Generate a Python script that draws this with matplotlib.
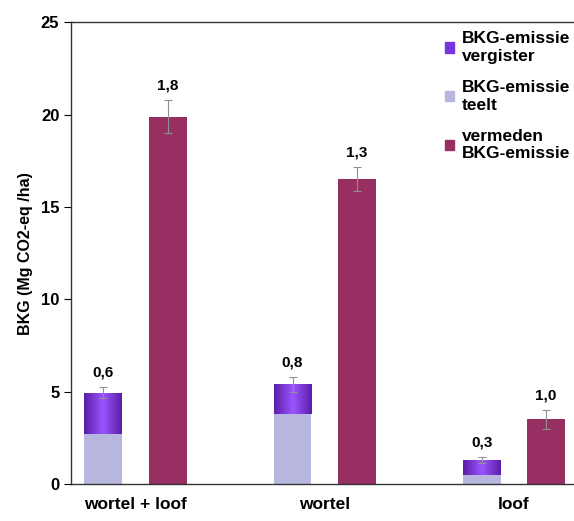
import numpy as np
import matplotlib.pyplot as plt
from matplotlib.colors import LinearSegmentedColormap

plt.rcParams['font.family'] = ['Liberation Sans', 'DejaVu Sans']
plt.rcParams['font.weight'] = 'bold'

groepen = ['wortel + loof', 'wortel', 'loof']
teelt = [2.7, 3.8, 0.5]          # BKG-emissie teelt
vergister = [2.25, 1.6, 0.8]     # BKG-emissie vergister (bovenop teelt)
vermeden = [19.9, 16.5, 3.5]     # vermeden BKG-emissie
err_emissie = [0.6, 0.8, 0.3]    # totale spreiding (label)
err_vermeden = [1.8, 1.3, 1.0]

x = np.arange(len(groepen))
w = 0.2
dx = 0.17

fig = plt.figure(figsize=(5.74, 5.21), dpi=100)
ax = fig.add_axes([0.124, 0.071, 0.88, 0.886])

c_teelt = '#b6b6de'
c_verg = '#7a35e0'
c_verm = '#972f62'

totaal = np.array(teelt) + np.array(vergister)

ax.bar(x - dx, teelt, w, color=c_teelt, zorder=2)
bars_v = ax.bar(x - dx, vergister, w, bottom=teelt, color=c_verg, zorder=2)
ax.bar(x + dx, vermeden, w, color=c_verm, zorder=2)

# horizontale gradient in de vergister-balken
grad_cmap = LinearSegmentedColormap.from_list('g', ['#5a1ea8', '#9d55ff', '#5a1ea8'])
grad = np.linspace(0, 1, 64).reshape(1, -1)
for b in bars_v:
    im = ax.imshow(grad, cmap=grad_cmap, aspect='auto', zorder=2.5,
                   extent=[b.get_x(), b.get_x() + b.get_width(),
                           b.get_y(), b.get_y() + b.get_height()])
    im.set_clip_path(b)

# foutbalken: label geeft totale spreiding
ax.errorbar(x - dx, totaal, yerr=np.array(err_emissie) / 2, fmt='none',
            ecolor='#909090', elinewidth=0.8, capsize=3, capthick=0.8, zorder=3)
ax.errorbar(x + dx, vermeden, yerr=np.array(err_vermeden) / 2, fmt='none',
            ecolor='#909090', elinewidth=0.8, capsize=3, capthick=0.8, zorder=3)

for xi, t, e in zip(x - dx, totaal, err_emissie):
    ax.text(xi, t + e / 2 + 0.4, f'{e:.1f}'.replace('.', ','), ha='center',
            va='bottom', fontsize=11, fontweight='bold')
for xi, t, e in zip(x + dx, vermeden, err_vermeden):
    ax.text(xi, t + e / 2 + 0.4, f'{e:.1f}'.replace('.', ','), ha='center',
            va='bottom', fontsize=11, fontweight='bold')

ax.set_xlim(-0.34, 2.33)
ax.set_ylim(0, 25)
ax.set_yticks([0, 5, 10, 15, 20, 25])
ax.set_xticks(x)
ax.set_xticklabels(groepen, fontsize=12.5, fontweight='bold')
ax.tick_params(axis='x', length=0, pad=9)
ax.tick_params(axis='y', labelsize=12, length=5, direction='out')
ax.set_ylabel('BKG (Mg CO2-eq /ha)', fontsize=11.5, fontweight='bold', labelpad=6)
ax.spines['right'].set_visible(False)
for s in ['left', 'top', 'bottom']:
    ax.spines[s].set_color('#333333')
    ax.spines[s].set_linewidth(1.0)

handles = [plt.Rectangle((0, 0), 1, 1, color=c_verg),
           plt.Rectangle((0, 0), 1, 1, color=c_teelt),
           plt.Rectangle((0, 0), 1, 1, color=c_verm)]
labels = ['BKG-emissie\nvergister', 'BKG-emissie\nteelt', 'vermeden\nBKG-emissie']
fig.legend(handles, labels, loc='upper left', bbox_to_anchor=(0.775, 0.94),
           frameon=False, prop={'size': 12.5, 'weight': 'bold'},
           handlelength=0.55, handleheight=0.55, handletextpad=0.45,
           labelspacing=0.95, borderaxespad=0, borderpad=0)

fig.savefig('out.png', dpi=100)
